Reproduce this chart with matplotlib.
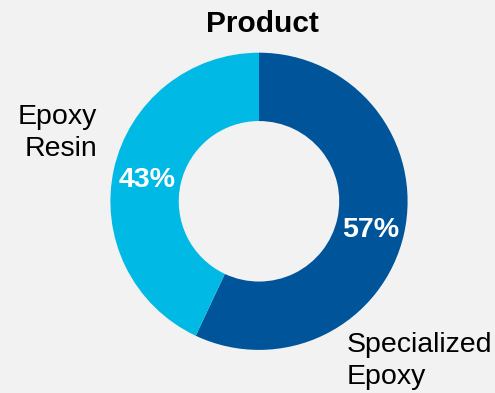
import matplotlib.pyplot as plt

plt.rcParams['font.family'] = ['Liberation Sans', 'DejaVu Sans']

# product split
labels = ['Specialized\nEpoxy', 'Epoxy\nResin']
shares = [57, 43]
colors = ['#00549a', '#00b9e4']

W, H = 495, 393
fig = plt.figure(figsize=(W / 100, H / 100), dpi=100, facecolor='#f2f2f2')

# donut centre and radius in pixels
cx, cy, r = 259, 201.3, 148.6
ax = fig.add_axes([(cx - r) / W, (H - cy - r) / H, 2 * r / W, 2 * r / H])
ax.set_facecolor('#f2f2f2')

wedges, texts, autotexts = ax.pie(
    shares, colors=colors, startangle=90, counterclock=False,
    radius=1, wedgeprops=dict(width=0.46, linewidth=0),
    autopct='%d%%', pctdistance=0.77,
    textprops=dict(color='white', fontsize=20.5, fontweight='bold'))
# nudge the percentages down a little
for t in autotexts:
    x, y = t.get_position()
    t.set_position((x, y - 0.025))
ax.set_xlim(-1, 1)
ax.set_ylim(-1, 1)
ax.set_aspect('equal')
ax.axis('off')

# outside category labels
ax.text(-1.089, 0.46, labels[1], ha='right', va='center', fontsize=20.5,
        linespacing=1.33, color='black')
ax.text(0.59, -1.075, labels[0], ha='left', va='center', fontsize=20.5,
        linespacing=1.3, color='black')

fig.text(262.5 / W, 1 - 24.5 / H, 'Product', ha='center', va='center',
         fontsize=21.5, fontweight='bold')

fig.savefig('out.png', dpi=100, facecolor=fig.get_facecolor())
